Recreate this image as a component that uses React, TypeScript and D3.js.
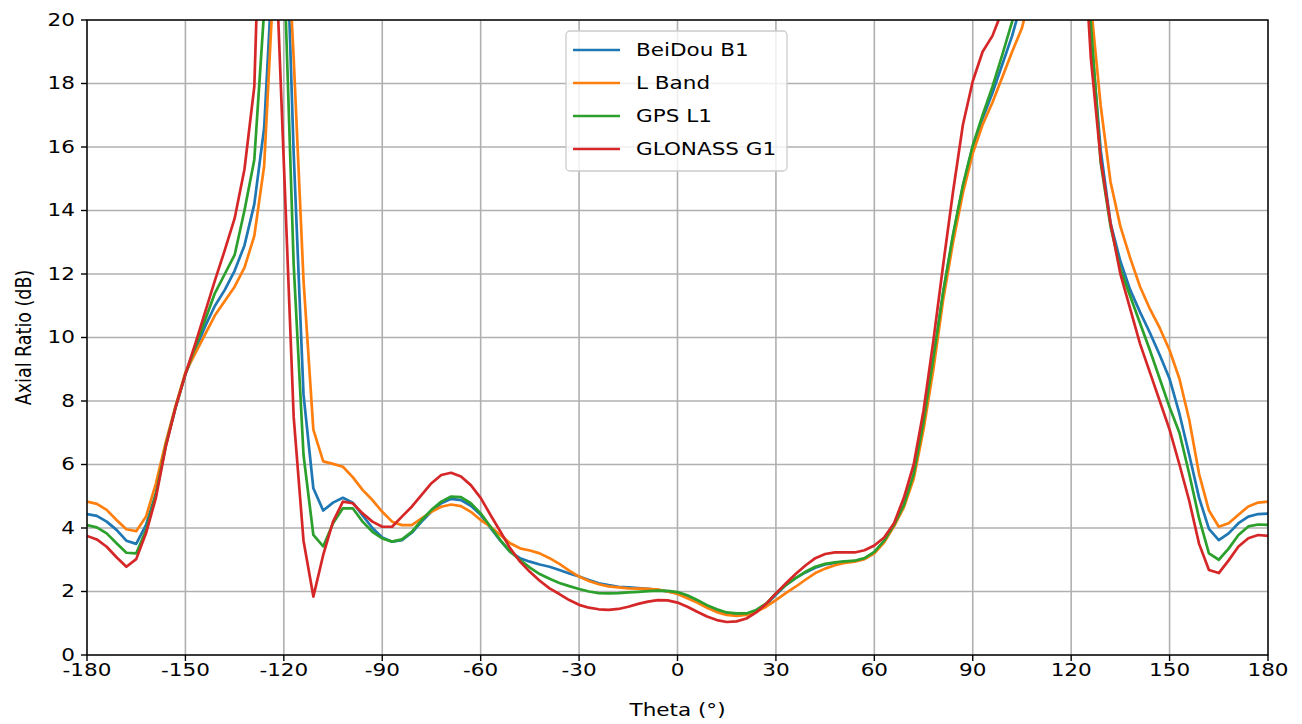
import React from "react";
import * as d3 from "d3";

const theta: number[] = d3.range(-180, 181, 3);

const beidouB1: number[] = [
  4.44, 4.38, 4.2, 3.94, 3.6, 3.5, 4.1, 5.1, 6.6, 7.8,
  8.85, 9.6, 10.35, 11.0, 11.5, 12.1, 12.9, 14.2, 16.6, 22.5,
  25.5, 15.8, 8.2, 5.25, 4.55, 4.8, 4.95, 4.8, 4.4, 4.0,
  3.7, 3.57, 3.62, 3.85, 4.2, 4.52, 4.78, 4.92, 4.88, 4.7,
  4.42, 4.0, 3.6, 3.25, 3.05, 2.94, 2.85, 2.78, 2.68, 2.57,
  2.47, 2.36, 2.26, 2.2, 2.15, 2.13, 2.11, 2.08, 2.05, 2.0,
  1.94, 1.82, 1.68, 1.52, 1.39, 1.31, 1.28, 1.29, 1.39, 1.58,
  1.9, 2.2, 2.42, 2.6, 2.75, 2.85, 2.9, 2.94, 2.96, 3.03,
  3.22, 3.58, 4.08, 4.7, 5.65, 7.3, 9.3, 11.4, 13.2, 14.75,
  16.0, 16.9, 17.7, 18.6, 19.5, 20.6, 23, 26, 28, 29,
  28, 25, 19.6, 15.9, 13.6, 12.4, 11.5, 10.8, 10.15, 9.45,
  8.7, 7.6, 6.3, 4.95, 3.97, 3.62, 3.83, 4.15, 4.36, 4.44,
  4.45,
];

const lBand: number[] = [
  4.83, 4.76, 4.57, 4.25, 3.96, 3.9, 4.36, 5.4, 6.7, 7.85,
  8.9, 9.5, 10.1, 10.7, 11.15, 11.6, 12.2, 13.2, 15.4, 21.5,
  25, 18.8, 11.8, 7.1, 6.1, 6.02, 5.93, 5.6, 5.2, 4.88,
  4.51, 4.2, 4.09, 4.09, 4.3, 4.51, 4.67, 4.74, 4.69, 4.51,
  4.25, 4.04, 3.78, 3.52, 3.36, 3.29, 3.2, 3.05, 2.87, 2.66,
  2.47, 2.33, 2.23, 2.16, 2.13, 2.1, 2.09, 2.08, 2.06, 2.0,
  1.92, 1.79, 1.65, 1.49, 1.35, 1.26, 1.23, 1.26, 1.36, 1.52,
  1.73, 1.95, 2.15, 2.37, 2.58, 2.72, 2.83, 2.9, 2.94, 3.02,
  3.2, 3.55, 4.05, 4.65, 5.55, 7.1, 9.0, 11.2, 13.0, 14.55,
  15.8, 16.7, 17.4, 18.2, 19.0, 19.75, 21, 24, 27, 29,
  28, 25, 20.5, 17.3, 14.9, 13.5, 12.5, 11.6, 10.9, 10.3,
  9.6, 8.7, 7.4, 5.7, 4.55, 4.04, 4.15, 4.42, 4.68, 4.8,
  4.83,
];

const gpsL1: number[] = [
  4.09, 4.02, 3.83, 3.52, 3.22, 3.2, 3.94, 5.05, 6.6, 7.8,
  8.85, 9.7, 10.55, 11.4, 12.0, 12.6, 14.0, 15.6, 20.3, 28,
  22, 12.3, 6.3, 3.78, 3.42, 4.15, 4.62, 4.62, 4.2, 3.88,
  3.67, 3.57, 3.64, 3.88, 4.25, 4.57, 4.83, 4.99, 4.97, 4.78,
  4.46, 4.04, 3.62, 3.25, 2.99, 2.75, 2.55, 2.4, 2.27, 2.17,
  2.08, 2.0, 1.95, 1.94, 1.95, 1.97, 1.99, 2.01, 2.03, 2.02,
  1.98, 1.88, 1.73, 1.57, 1.44, 1.34, 1.31, 1.31, 1.42, 1.62,
  1.94, 2.2, 2.42, 2.62, 2.78, 2.87, 2.92, 2.95, 2.97, 3.05,
  3.25, 3.6, 4.1, 4.72, 5.7, 7.35, 9.35, 11.45, 13.25, 14.8,
  16.05, 17.0, 17.9, 18.9, 19.95, 21, 24, 27, 29, 30,
  28, 24, 19.9, 15.5, 13.5, 12.15, 11.3, 10.45, 9.6, 8.7,
  7.8, 7.0, 5.7, 4.3, 3.2, 3.0, 3.35, 3.78, 4.05, 4.11,
  4.1,
];

const glonassG1: number[] = [
  3.75, 3.64, 3.41, 3.08, 2.78, 3.02, 3.84, 4.95, 6.55, 7.8,
  8.85, 9.8, 10.8, 11.8, 12.75, 13.75, 15.3, 17.9, 28, 23.5,
  15.5, 7.5, 3.6, 1.84, 3.15, 4.2, 4.83, 4.78, 4.46, 4.2,
  4.04, 4.04, 4.36, 4.67, 5.04, 5.41, 5.67, 5.74, 5.62, 5.35,
  4.95, 4.41, 3.89, 3.36, 2.94, 2.62, 2.34, 2.1, 1.92, 1.73,
  1.58, 1.49, 1.44, 1.42, 1.45, 1.52, 1.61, 1.68, 1.73, 1.72,
  1.65, 1.52, 1.36, 1.21, 1.1, 1.04, 1.06, 1.15, 1.34, 1.61,
  1.94, 2.25, 2.55, 2.82, 3.05, 3.18, 3.23, 3.23, 3.23, 3.3,
  3.45, 3.7, 4.15, 4.95, 6.0, 7.7, 9.9, 12.3, 14.6, 16.7,
  18.07, 19.0, 19.5, 20.3, 22, 25, 28, 30, 30, 30,
  30, 24, 18.8, 15.6, 13.6, 12.0, 10.9, 9.8, 8.9, 8.0,
  7.1, 6.0, 4.85, 3.5, 2.68, 2.58, 2.98, 3.42, 3.68, 3.78,
  3.75,
];

const seriesNames: string[] = ["BeiDou B1", "L Band", "GPS L1", "GLONASS G1"];
const seriesColors: string[] = ["#1f77b4", "#ff7f0e", "#2ca02c", "#d62728"];
const xTicks: number[] = [-180, -150, -120, -90, -60, -30, 0, 30, 60, 90, 120, 150, 180];
const yTicks: number[] = [0, 2, 4, 6, 8, 10, 12, 14, 16, 18, 20];

const W = 1302;
const H = 724;
const M = { left: 87, right: 1268, top: 20, bottom: 655 };
const FONT = "DejaVu Sans, sans-serif";
const FS = 17.5;
const SX = 1.23; // horizontal stretch of glyphs seen in the reference

function HText(props: {
  x: number;
  y: number;
  anchor?: "start" | "middle" | "end";
  baseline?: string;
  children: React.ReactNode;
}) {
  return (
    <text
      transform={`translate(${props.x},${props.y}) scale(${SX},1)`}
      textAnchor={props.anchor || "start"}
      dominantBaseline={props.baseline || "auto"}
      fontSize={FS}
      fill="#000"
    >
      {props.children}
    </text>
  );
}

export default function App() {
  const x = d3.scaleLinear().domain([-180, 180]).range([M.left, M.right]);
  const y = d3.scaleLinear().domain([0, 20]).range([M.bottom, M.top]);
  const allSeries = [beidouB1, lBand, gpsL1, glonassG1];
  const line = d3
    .line<number>()
    .x((_, i) => x(theta[i]))
    .y((d) => y(d));

  const legX = 566;
  const legY = 31;
  const legW = 221;
  const legH = 140;
  const rowH = 33;

  return (
    <svg
      width={W}
      height={H}
      style={{ position: "absolute", left: 0, top: 0, background: "#fff" }}
      fontFamily={FONT}
    >
      <defs>
        <clipPath id="plotClip">
          <rect x={M.left} y={M.top} width={M.right - M.left} height={M.bottom - M.top} />
        </clipPath>
      </defs>
      <rect x={0} y={0} width={W} height={H} fill="#fff" />
      {/* grid */}
      <g stroke="#b0b0b0" strokeWidth={1.6}>
        {xTicks.map((t) => (
          <line key={"gx" + t} x1={x(t)} x2={x(t)} y1={M.top} y2={M.bottom} />
        ))}
        {yTicks.map((t) => (
          <line key={"gy" + t} x1={M.left} x2={M.right} y1={y(t)} y2={y(t)} />
        ))}
      </g>
      {/* lines */}
      <g clipPath="url(#plotClip)" fill="none" strokeWidth={2.7} strokeLinejoin="round" strokeLinecap="square">
        {allSeries.map((s, i) => (
          <path key={seriesNames[i]} d={line(s) || ""} stroke={seriesColors[i]} />
        ))}
      </g>
      {/* spines */}
      <rect
        x={M.left}
        y={M.top}
        width={M.right - M.left}
        height={M.bottom - M.top}
        fill="none"
        stroke="#000"
        strokeWidth={1.4}
      />
      {/* x ticks */}
      <g>
        {xTicks.map((t) => (
          <g key={"xt" + t}>
            <line x1={x(t)} x2={x(t)} y1={M.bottom} y2={M.bottom + 6} stroke="#000" strokeWidth={1.4} />
            <HText x={x(t)} y={M.bottom + 21} anchor="middle">
              {String(t)}
            </HText>
          </g>
        ))}
      </g>
      {/* y ticks */}
      <g>
        {yTicks.map((t) => (
          <g key={"yt" + t}>
            <line x1={M.left - 6} x2={M.left} y1={y(t)} y2={y(t)} stroke="#000" strokeWidth={1.4} />
            <HText x={M.left - 12} y={y(t)} anchor="end" baseline="central">
              {String(t)}
            </HText>
          </g>
        ))}
      </g>
      <HText x={(M.left + M.right) / 2} y={716} anchor="middle">
        Theta (°)
      </HText>
      <text
        transform={`translate(31, ${(M.top + M.bottom) / 2}) rotate(-90) scale(1, ${SX})`}
        textAnchor="middle"
        fontSize={FS}
        fill="#000"
      >
        Axial Ratio (dB)
      </text>
      {/* legend */}
      <rect
        x={legX}
        y={legY}
        width={legW}
        height={legH}
        rx={4}
        ry={4}
        fill="#fff"
        fillOpacity={0.8}
        stroke="#cccccc"
        strokeWidth={1.3}
      />
      {seriesNames.map((n, i) => (
        <g key={"lg" + n}>
          <line
            x1={legX + 7}
            x2={legX + 54}
            y1={legY + 19 + i * rowH}
            y2={legY + 19 + i * rowH}
            stroke={seriesColors[i]}
            strokeWidth={2.7}
          />
          <HText x={legX + 70} y={legY + 19 + i * rowH} baseline="central">
            {n}
          </HText>
        </g>
      ))}
    </svg>
  );
}
